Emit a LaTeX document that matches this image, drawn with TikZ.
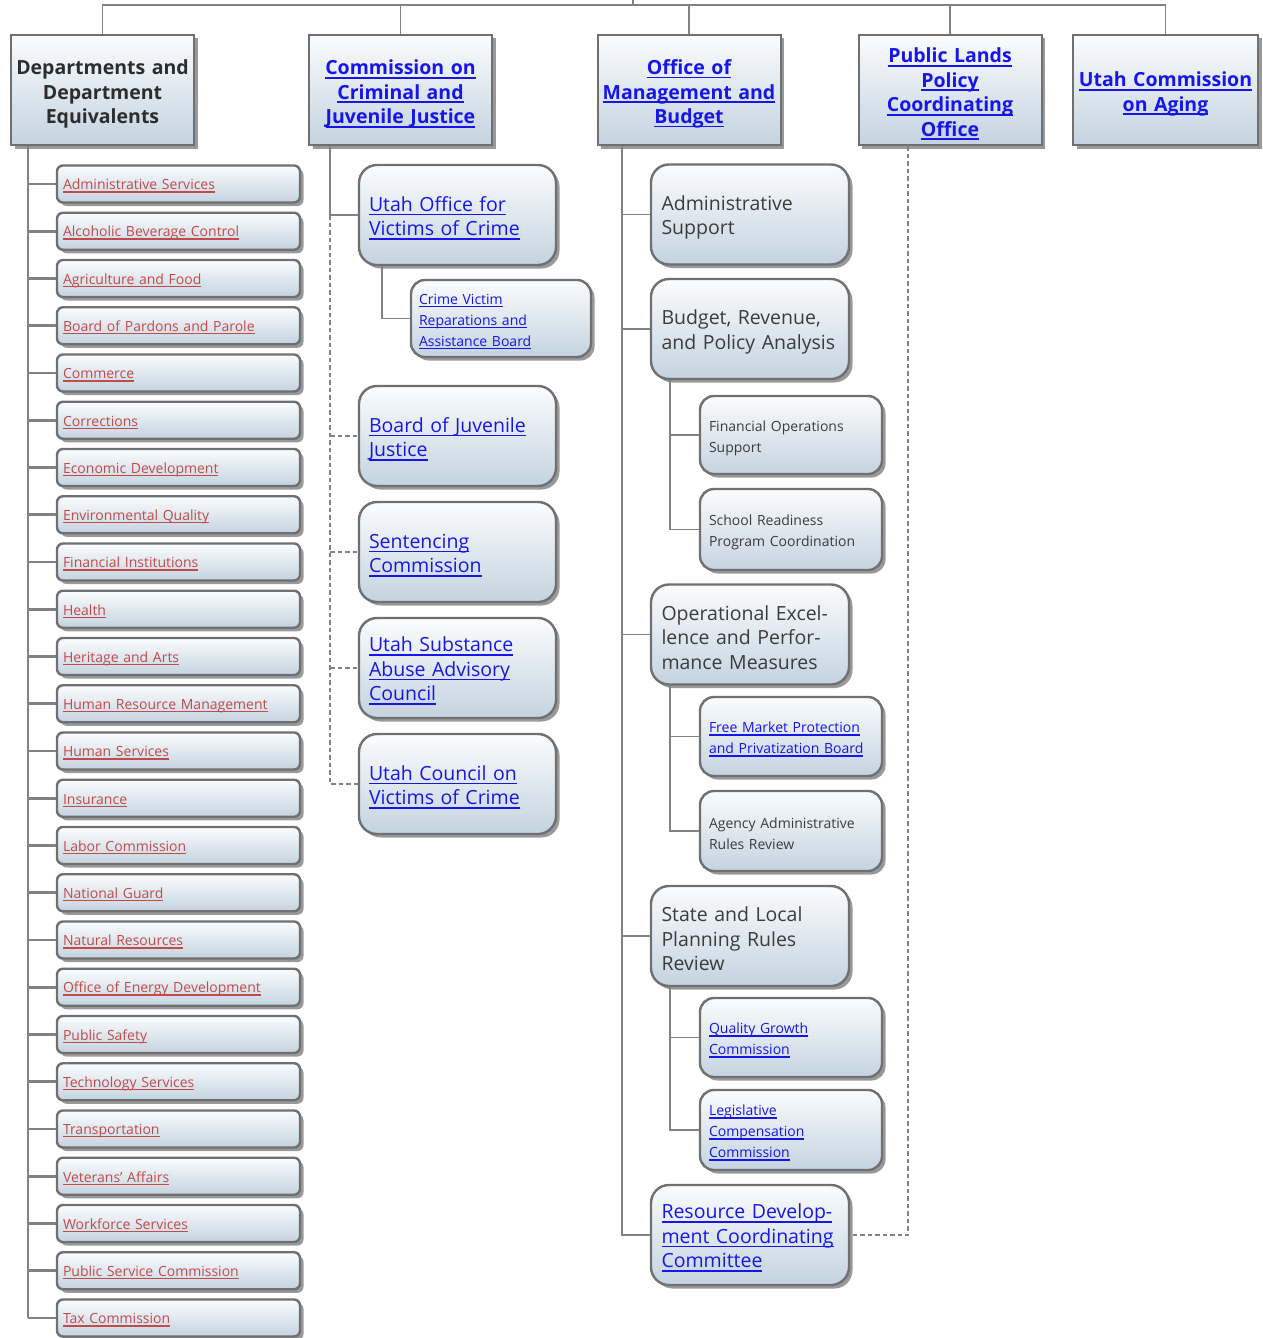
\documentclass[tikz,border=0pt]{standalone}
\usepackage{fontspec}
\setmainfont{Open Sans}
\usetikzlibrary{shadows}
\definecolor{bgrey}{RGB}{112,112,112}
\definecolor{lgrey}{RGB}{130,130,130}
\definecolor{boxtop}{RGB}{251,252,253}
\definecolor{boxblue}{RGB}{196,211,224}
\definecolor{linkblue}{RGB}{22,22,235}
\definecolor{linkred}{RGB}{196,74,74}
\definecolor{txtgrey}{RGB}{60,60,60}
\definecolor{hdtxt}{RGB}{45,45,45}
\newsavebox{\ulkbox}
\newcommand{\ulk}[1]{\sbox{\ulkbox}{#1}\leavevmode\rlap{\raisebox{-0.2em}{\rule{\wd\ulkbox}{1.4pt}}}\usebox{\ulkbox}}
\newcommand{\ulkb}[1]{\sbox{\ulkbox}{#1}\leavevmode\rlap{\raisebox{-0.2em}{\rule{\wd\ulkbox}{1.9pt}}}\usebox{\ulkbox}}
\tikzset{
  boxshade/.style={top color=boxtop, bottom color=boxblue,
    drop shadow={shadow xshift=3.5pt, shadow yshift=-3.5pt, opacity=0.4, fill=black}},
  lowtext/.style={execute at begin node={\rule{0pt}{\dimexpr0.76em+#1\relax}}},
  hbox/.style={boxshade, draw=bgrey, line width=2pt, minimum width=183pt, minimum height=110pt,
    text width=180pt, inner xsep=1.5pt, inner ysep=0pt, align=center,
    font=\fontsize{19.5}{24.5}\selectfont\bfseries, lowtext=8pt},
  rbig/.style={boxshade, draw=bgrey, line width=2.4pt, rounded corners=18pt,
    minimum width=197pt, minimum height=100pt, text width=177pt, inner xsep=10pt, inner ysep=0pt,
    align=left, font=\fontsize{19.5}{24.5}\selectfont, lowtext=6pt},
  rsub/.style={boxshade, draw=bgrey, line width=2.4pt, rounded corners=14pt,
    minimum width=182pt, minimum height=79pt, text width=164pt, inner xsep=9pt, inner ysep=0pt,
    align=left, font=\fontsize{14}{21}\selectfont, lowtext=6pt},
  litem/.style={boxshade, draw=bgrey, line width=2.4pt, rounded corners=6pt,
    minimum width=243pt, minimum height=37pt, text width=231pt, inner xsep=6pt, inner ysep=0pt,
    align=left, text=linkred, font=\fontsize{14}{17}\selectfont, lowtext=4pt},
  conn/.style={draw=lgrey, line width=1.6pt},
  lconn/.style={draw=lgrey, line width=2.6pt},
  dconn/.style={draw=lgrey, line width=1.5pt, dash pattern=on 4.5pt off 3pt},
}
\begin{document}
\begin{tikzpicture}[x=1pt, y=-1pt]
\fill[white] (0,0) rectangle (1263,1338);
\useasboundingbox (0,0) rectangle (1263,1338);

% header boxes
\node[hbox, text=hdtxt] (hd1) at (102.5,90) {Departments and\\Department\\Equivalents};
\node[hbox, text=linkblue] (hd2) at (400.5,90) {\ulkb{Commission on}\\\ulkb{Criminal and}\\\ulkb{Juvenile Justice}};
\node[hbox, text=linkblue] (hd3) at (689,90) {\ulkb{Office of}\\\ulkb{Management and}\\\ulkb{Budget}};
\node[hbox, text=linkblue] (hd4) at (950,90) {\ulkb{Public Lands}\\\ulkb{Policy}\\\ulkb{Coordinating}\\\ulkb{Office}};
\node[hbox, text=linkblue, minimum width=185pt] (hd5) at (1165.5,90) {\ulkb{Utah Commission}\\\ulkb{on Aging}};

% top connectors
\coordinate (tp) at (633,0);
\coordinate (tj) at (633,5);
\draw[conn] (tp) -- (tj);
\draw[conn] (hd1.north) -- (hd1.north |- tj) -- (hd5.north |- tj) -- (hd5.north);
\draw[conn] (hd2.north) -- (hd2.north |- tj);
\draw[conn] (hd3.north) -- (hd3.north |- tj);
\draw[conn] (hd4.north) -- (hd4.north |- tj);

% left column
\coordinate (lx) at (28,0);
\foreach \t [count=\k] in {Administrative Services, Alcoholic Beverage Control, Agriculture and Food,
  Board of Pardons and Parole, Commerce, Corrections, Economic Development, Environmental Quality,
  Financial Institutions, Health, Heritage and Arts, Human Resource Management, Human Services,
  Insurance, Labor Commission, National Guard, Natural Resources, Office of Energy Development,
  Public Safety, Technology Services, Transportation, Veterans' Affairs, Workforce Services,
  Public Service Commission, Tax Commission}
{
  \node[litem] (i\k) at (178.5, {184+(\k-1)*47.25}) {\ulk{\t}};
  \draw[lconn] (lx |- i\k.west) -- (i\k.west);
}
\draw[lconn] (hd1.south -| lx) -- (lx |- i25.west);

% CCJJ column
\node[rbig, text=linkblue] (uovc) at (457.5,215) {\ulk{Utah Office for}\\\ulk{Victims of Crime}};
\node[rsub, text=linkblue, minimum width=180pt, minimum height=77pt, text width=164pt, inner xsep=8pt] (cvr) at (501,318.5) {\ulk{Crime Victim}\\\ulk{Reparations and}\\\ulk{Assistance Board}};
\node[rbig, text=linkblue] (bjj) at (457.5,436) {\ulk{Board of Juvenile}\\\ulk{Justice}};
\node[rbig, text=linkblue] (sc) at (457.5,552) {\ulk{Sentencing}\\\ulk{Commission}};
\node[rbig, text=linkblue] (usaac) at (457.5,668) {\ulk{Utah Substance}\\\ulk{Abuse Advisory}\\\ulk{Council}};
\node[rbig, text=linkblue] (ucvc) at (457.5,784) {\ulk{Utah Council on}\\\ulk{Victims of Crime}};

\coordinate (cx) at (330,0);
\draw[conn] (hd2.south -| cx) |- (uovc.west);
\draw[dconn] (cx |- uovc.west) |- (ucvc.west);
\draw[dconn] (cx |- bjj.west) -- (bjj.west);
\draw[dconn] (cx |- sc.west) -- (sc.west);
\draw[dconn] (cx |- usaac.west) -- (usaac.west);
\coordinate (ux) at (382,0);
\draw[conn] (uovc.south -| ux) |- (cvr.west);

% OMB column
\node[rbig, text=txtgrey, minimum width=198pt] (as) at (750,214.5) {Administrative\\Support};
\node[rbig, text=txtgrey, minimum width=198pt] (brpa) at (750,329) {Budget, Revenue,\\and Policy Analysis};
\node[rsub, text=txtgrey, minimum height=78pt] (fos) at (791,435) {Financial Operations\\Support};
\node[rsub, text=txtgrey, minimum height=81pt] (srpc) at (791,529.5) {School Readiness\\Program Coordination};
\node[rbig, text=txtgrey, minimum width=198pt] (oepm) at (750,634.5) {Operational Excel-\\lence and Perfor-\\mance Measures};
\node[rsub, text=linkblue] (fmppb) at (791,736.5) {\ulk{Free Market Protection}\\\ulk{and Privatization Board}};
\node[rsub, text=txtgrey, minimum height=80pt] (aarr) at (791,831) {Agency Administrative\\Rules Review};
\node[rbig, text=txtgrey, minimum width=198pt] (slprr) at (750,936) {State and Local\\Planning Rules\\Review};
\node[rsub, text=linkblue] (qgc) at (791,1037.5) {\ulk{Quality Growth}\\\ulk{Commission}};
\node[rsub, text=linkblue, minimum height=80pt] (lcc) at (791,1130) {\ulk{Legislative}\\\ulk{Compensation}\\\ulk{Commission}};
\node[rbig, text=linkblue, minimum width=198pt] (rdcc) at (750,1235) {\ulk{Resource Develop-}\\\ulk{ment Coordinating}\\\ulk{Committee}};

\coordinate (ox) at (622,0);
\draw[conn] (hd3.south -| ox) |- (rdcc.west);
\foreach \n in {as, brpa, oepm, slprr} { \draw[conn] (ox |- \n.west) -- (\n.west); }
\coordinate (sx) at (670,0);
\draw[conn] (brpa.south -| sx) |- (srpc.west);
\draw[conn] (sx |- fos.west) -- (fos.west);
\draw[conn] (oepm.south -| sx) |- (aarr.west);
\draw[conn] (sx |- fmppb.west) -- (fmppb.west);
\draw[conn] (slprr.south -| sx) |- (lcc.west);
\draw[conn] (sx |- qgc.west) -- (qgc.west);

% Public Lands dashed link
\coordinate (px) at (908,0);
\draw[dconn] (hd4.south -| px) |- (rdcc.east);
\end{tikzpicture}
\end{document}
